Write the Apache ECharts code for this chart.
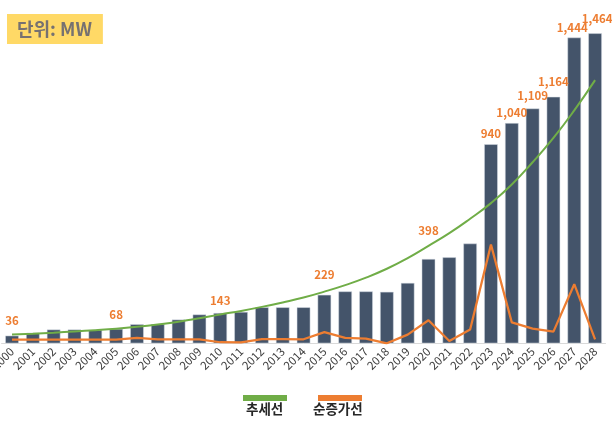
<!DOCTYPE html>
<html>
<head>
<meta charset="utf-8">
<title>단위: MW</title>
<script src="https://cdn.jsdelivr.net/npm/echarts@6/dist/echarts.min.js"></script>
<style>
    html, body { margin: 0; padding: 0; background: #fff; }
    #chart { width: 612px; height: 423px; }
</style>
</head>
<body>
<div id="chart"></div>
<script>
var years = ['2000', '2001', '2002', '2003', '2004', '2005', '2006', '2007', '2008', '2009',
    '2010', '2011', '2012', '2013', '2014', '2015', '2016', '2017', '2018', '2019',
    '2020', '2021', '2022', '2023', '2024', '2025', '2026', '2027', '2028'];

// 누적 용량 (MW)
var capacity = [36, 50, 65, 65, 63, 68, 90, 90, 112, 136,
    143, 148, 170, 170, 170, 229, 245, 245, 243, 285,
    398, 406, 471, 940, 1040, 1109, 1164, 1444, 1464];

// 추세선
var trend = [41, 45, 50, 56, 62, 69, 78, 89, 102, 118,
    136, 153, 172, 193, 216, 244, 275, 310, 352, 402,
    460, 520, 588, 662, 750, 855, 970, 1100, 1243];

// 순증가선
var netIncrease = [17, 17, 17, 17, 17, 17, 26, 19, 19, 19,
    5, 4, 20, 20, 19, 53, 26, 22, 0, 41,
    109, 11, 65, 466, 99, 69, 55, 279, 19];

// 값 표시할 연도
var labelYears = ['2000', '2005', '2010', '2015', '2020', '2023', '2024', '2025', '2026', '2027', '2028'];

var labelGap = {
    '2000': 9, '2005': 9, '2010': 7, '2015': 14, '2020': 23,
    '2023': 5, '2024': 5, '2025': 7, '2026': 9, '2027': 4, '2028': 9
};

var chart = echarts.init(document.getElementById('chart'));

var barData = capacity.map(function (v, i) {
    var y = years[i];
    if (labelYears.indexOf(y) < 0) {
        return v;
    }
    return {
        value: v,
        label: {
            show: true,
            position: 'top',
            distance: labelGap[y],
            offset: y === '2028' ? [2, 0] : (y === '2027' ? [-2, 0] : [0, 0])
        }
    };
});

var option = {
    animation: false,
    title: {
        text: '단위: MW',
        left: 7,
        top: 14,
        backgroundColor: '#FFD966',
        padding: [5, 11, 5, 10],
        textStyle: {
            fontFamily: 'Noto Sans CJK KR',
            fontSize: 18,
            fontWeight: 'bold',
            color: '#767171',
            lineHeight: 20
        }
    },
    grid: {
        left: 1.6,
        right: 6.5,
        top: 25.7,
        bottom: 79.7,
        containLabel: false,
        outerBoundsMode: 'none'
    },
    xAxis: {
        type: 'category',
        data: years,
        boundaryGap: true,
        axisLine: { lineStyle: { color: '#D9D9D9', width: 1 } },
        axisTick: { show: false },
        axisLabel: {
            interval: 0,
            rotate: 45,
            margin: 6,
            fontFamily: 'Noto Sans CJK KR',
            fontSize: 11.5,
            color: '#404040'
        }
    },
    yAxis: {
        type: 'value',
        min: 0,
        max: 1500,
        show: false,
        splitLine: { show: false }
    },
    series: [
        {
            name: '누적',
            type: 'bar',
            data: barData,
            barWidth: '65%',
            itemStyle: { color: '#44546A', borderColor: '#D6DCE5', borderWidth: 0.5 },
            label: {
                show: false,
                formatter: function (p) {
                    return p.value.toLocaleString('en-US');
                },
                fontFamily: 'Noto Sans CJK KR',
                fontSize: 11.5,
                fontWeight: 'bold',
                color: '#ED7D31'
            }
        },
        {
            name: '추세선',
            type: 'line',
            data: trend,
            smooth: true,
            showSymbol: false,
            lineStyle: { color: '#70AD47', width: 2 },
            z: 3
        },
        {
            name: '순증가선',
            type: 'line',
            data: netIncrease,
            showSymbol: false,
            lineStyle: { color: '#ED7D31', width: 2.25 },
            z: 4
        }
    ],
    graphic: [
        { type: 'rect', left: 243, top: 395, shape: { width: 44, height: 6 }, style: { fill: '#70AD47' } },
        {
            type: 'text', left: 246, top: 402,
            style: { text: '추세선', font: 'bold 13.5px "Noto Sans CJK KR"', fill: '#262626' }
        },
        { type: 'rect', left: 318, top: 395, shape: { width: 44, height: 6 }, style: { fill: '#ED7D31' } },
        {
            type: 'text', left: 313, top: 402,
            style: { text: '순증가선', font: 'bold 13.5px "Noto Sans CJK KR"', fill: '#262626' }
        }
    ]
};

chart.setOption(option);
</script>
</body>
</html>
